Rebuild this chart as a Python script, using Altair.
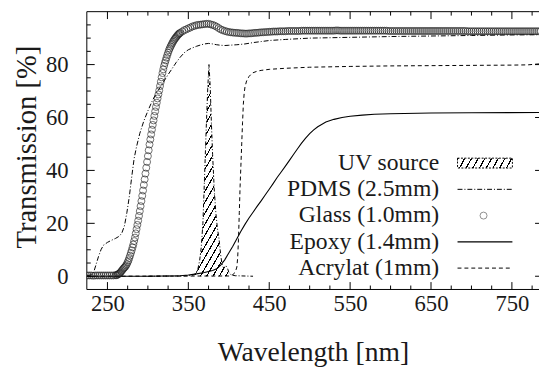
import altair as alt
import pandas as pd

# ---------------- data ----------------
glass_segA = [0.3, 0.3, 0.3, 0.2, 0.3, 0.3, 0.3, 0.3, 0.3, 0.3, 0.3, 0.3, 0.3, 0.3, 0.4]
glass_segB = [0.4, 0.5, 0.7, 0.9, 1.1, 1.4, 1.8, 2.2, 2.6, 3.0,
              3.3, 3.6, 4.1, 4.6, 5.3, 6.0, 6.9, 7.8, 8.8, 9.8,
              10.9, 12.0, 13.3, 14.6, 16.2, 17.8, 19.4, 21.0, 22.8, 24.6,
              26.5, 28.4, 30.4, 32.4, 34.5, 36.6, 38.8, 41.0, 43.2, 45.4,
              47.6, 49.8, 51.7, 53.6, 55.4, 57.2, 58.9, 60.6, 62.3, 64.0,
              65.6, 67.2, 68.7, 70.2, 71.9, 73.5, 75.2, 76.8, 78.2, 79.5,
              80.6, 81.6, 82.6, 83.6, 84.5, 85.4, 86.1, 86.8, 87.4, 88.0,
              88.6, 89.1, 89.6, 90.0, 90.4, 90.8, 91.2, 91.5, 91.8, 92.0]
glass_segC = [92.5, 93.0, 93.3, 93.7, 94.0, 94.4, 94.6, 94.9, 95.0, 95.1,
              95.2, 95.3, 95.4, 95.4, 95.2, 95.0, 94.7, 94.3, 93.8, 93.3,
              93.0, 92.7, 92.5, 92.3, 92.2, 92.1, 92.0, 92.0, 91.9, 91.8,
              91.8, 91.7, 91.7, 91.8, 91.8, 91.9, 92.0, 92.0, 92.1, 92.2,
              92.2, 92.3, 92.3, 92.4]
glass_segD = [92.4, 92.5, 92.5, 92.5, 92.6, 92.6, 92.6, 92.6, 92.7, 92.7,
              92.7, 92.7, 92.7, 92.7, 92.7, 92.8, 92.8, 92.8, 92.8, 92.8,
              92.8, 92.8, 92.8, 92.8, 92.8, 92.8, 92.8, 92.8, 92.8, 92.8,
              92.8, 92.8, 92.9, 92.9, 92.8, 92.8, 92.8, 92.8, 92.8, 92.8,
              92.8, 92.8, 92.8, 92.8, 92.8, 92.8, 92.8, 92.8, 92.8, 92.8,
              92.8, 92.8, 92.8, 92.8, 92.8, 92.8, 92.8, 92.8, 92.7, 92.7,
              92.7, 92.7, 92.7, 92.7, 92.7, 92.7, 92.7, 92.7, 92.7, 92.7,
              92.7, 92.7, 92.7, 92.7, 92.7, 92.7, 92.7, 92.7, 92.7, 92.7,
              92.7, 92.7, 92.7, 92.7, 92.7, 92.7, 92.7, 92.7, 92.7, 92.7,
              92.7, 92.7, 92.7, 92.7, 92.7, 92.7, 92.7, 92.6, 92.6, 92.6,
              92.6, 92.6, 92.6, 92.6, 92.6, 92.6, 92.6, 92.6, 92.6, 92.6,
              92.6, 92.6, 92.6, 92.6, 92.6, 92.6, 92.6, 92.6, 92.6, 92.6,
              92.6, 92.6, 92.6, 92.6, 92.6, 92.6, 92.6, 92.6, 92.6, 92.6,
              92.6, 92.6, 92.6, 92.6]
glass_nm = ([225 + 2.5 * i for i in range(15)] + list(range(261, 341))
            + [342.5 + 2.5 * i for i in range(178)])
glass_t = glass_segA + glass_segB + glass_segC + glass_segD

pdms_nm = [225, 230, 233, 236, 239, 242, 245, 250, 255, 260,
           265, 268, 271, 274, 277, 280, 283, 286, 290, 295,
           300, 305, 310, 315, 320, 325, 330, 335, 340, 345,
           350, 355, 360, 365, 370, 375, 380, 385, 390, 395,
           400, 410, 420, 430, 440, 450, 470, 500, 550, 600,
           650, 700, 750, 785]
pdms_t = [0.3, 0.5, 1.5, 4.5, 7.5, 10, 11.7, 12.8, 13.6, 14.3,
          15.2, 16.5, 19, 24, 30, 37.5, 44.5, 49, 54, 58.7,
          62.5, 66, 69, 71.3, 73.8, 76.2, 78.5, 80.8, 82.8, 84.5,
          85.6, 86.3, 86.9, 87.4, 87.8, 88.0, 87.8, 87.5, 87.3, 87.2,
          87.3, 87.5, 87.8, 88.3, 88.7, 89.1, 89.5, 90.0, 90.3, 90.6,
          90.8, 91.0, 91.2, 91.3]

epoxy_nm = [225, 300, 340, 350, 360, 370, 380, 385, 390, 395,
            400, 405, 410, 415, 420, 425, 430, 435, 440, 445,
            450, 455, 460, 465, 470, 475, 480, 485, 490, 495,
            500, 505, 510, 520, 530, 540, 550, 565, 580, 600,
            650, 700, 785]
epoxy_t = [0, 0, 0.2, 0.5, 0.9, 1.4, 2.2, 2.8, 4.2, 6.2,
           8.8, 11.3, 14.2, 17.0, 19.6, 22.0, 24.2, 26.4, 28.5, 30.7,
           32.9, 35.1, 37.4, 39.5, 41.6, 43.8, 46.0, 48.2, 50.3, 52.2,
           53.9, 55.3, 56.5, 58.3, 59.3, 60.0, 60.5, 60.9, 61.2, 61.4,
           61.7, 61.8, 61.9]

acryl_nm = [225, 400, 402, 405, 408, 410, 411, 412, 413, 414,
            415, 416, 417, 418, 419, 420, 422, 425, 429, 435,
            440, 450, 470, 500, 550, 600, 650, 700, 750, 770, 785]
acryl_t = [0, 0.1, 0.2, 0.6, 1.5, 3.5, 7, 14, 24, 34,
           42, 50, 58, 65, 69, 71.5, 73.8, 75.5, 76.8, 77.5,
           77.8, 78.2, 78.6, 79.0, 79.3, 79.5, 79.6, 79.7, 79.8, 79.9, 80.3]

uv_nm = [300, 340, 355, 358, 360, 362, 364, 366, 368, 370,
         372, 374, 375.5, 377, 378.5, 380, 382, 384, 386, 388,
         390, 392, 394, 396, 398, 400, 403, 408, 430]
uv_t = [0, 0.1, 0.3, 0.8, 1.5, 3, 6, 11, 20, 37,
        55, 71, 80, 72, 58, 46, 33, 24, 18, 14,
        8, 4, 3, 4, 3.5, 1.5, 0.5, 0.2, 0]

x_major = [250, 350, 450, 550, 650, 750]
x_minor = [275, 300, 325, 375, 400, 425, 475, 500, 525, 575, 600, 625, 675, 700, 725, 775]
y_major = [0, 20, 40, 60, 80]
y_minor = [5, 10, 15, 25, 30, 35, 45, 50, 55, 65, 70, 75, 85, 90, 95]
legend_labels = ["UV source", "PDMS (2.5mm)", "Glass (1.0mm)", "Epoxy (1.4mm)", "Acrylat (1mm)"]

# ---------------- layout / style ----------------
W, H = 459, 282
FONT = "Liberation Serif"
INK = "#1a1a1a"
xs = alt.Scale(domain=[224.5, 783.5], nice=False, zero=False)
ys = alt.Scale(domain=[-5, 100], nice=False, zero=False)

glass_df = pd.DataFrame({"nm": glass_nm, "t": glass_t})
pdms_df = pd.DataFrame({"nm": pdms_nm, "t": pdms_t})
epoxy_df = pd.DataFrame({"nm": epoxy_nm, "t": epoxy_t})
acryl_df = pd.DataFrame({"nm": acryl_nm, "t": acryl_t})
uv_df = pd.DataFrame({"nm": uv_nm, "t": uv_t})
uv_peak = uv_df[(uv_df.nm >= 358) & (uv_df.nm <= 403)]


def hatch(n, frac, x2, y2):
    stops = []
    for i in range(n):
        a, b, c = i / n, (i + frac) / n, (i + 1) / n
        stops += [alt.GradientStop(color="black", offset=a),
                  alt.GradientStop(color="black", offset=b),
                  alt.GradientStop(color="white", offset=b),
                  alt.GradientStop(color="white", offset=c)]
    return alt.LinearGradient(gradient="linear", stops=stops, x1=0, y1=0, x2=x2, y2=y2)


x_axis = alt.Axis(values=x_major, domain=False, ticks=False, tickSize=0, grid=False,
                  labelPadding=3, labelFontSize=23, labelFont=FONT, labelColor=INK,
                  labelFlush=False, labelOverlap=False,
                  title="Wavelength [nm]", titleFont=FONT, titleFontSize=28,
                  titleFontWeight="normal", titleColor=INK, titleY=72,
                  titleBaseline="alphabetic")
y_axis = alt.Axis(values=y_major, domain=False, ticks=False, tickSize=0, grid=False,
                  labelPadding=19, labelFontSize=23, labelFont=FONT, labelColor=INK,
                  labelFlush=False, labelOverlap=False, labelBaseline="middle",
                  title="Transmission [%]", titleFont=FONT, titleFontSize=29,
                  titleFontWeight="normal", titleColor=INK, titleX=-61, titleY=137,
                  titleAngle=270, titleBaseline="middle", titleAlign="center")


def X(field="nm"):
    return alt.X(f"{field}:Q", scale=xs, axis=x_axis)


def Y(field="t"):
    return alt.Y(f"{field}:Q", scale=ys, axis=y_axis)


layers = []
layers.append(alt.Chart(uv_peak).mark_area(fill=hatch(25, 0.2, 0.358, 1.193), clip=True)
              .encode(x=X(), y=Y()))
layers.append(alt.Chart(uv_df).mark_line(color="black", strokeWidth=1, strokeDash=[4, 2, 1, 2], clip=True)
              .encode(x=X(), y=Y()))
layers.append(alt.Chart(epoxy_df).mark_line(color="black", strokeWidth=1.1, clip=True)
              .encode(x=X(), y=Y()))
layers.append(alt.Chart(acryl_df).mark_line(color="black", strokeWidth=1, strokeDash=[4, 3], clip=True)
              .encode(x=X(), y=Y()))
layers.append(alt.Chart(pdms_df).mark_line(color="black", strokeWidth=1, strokeDash=[5, 2, 1, 2], clip=True)
              .encode(x=X(), y=Y()))
layers.append(alt.Chart(glass_df).mark_point(shape="circle", filled=False, size=50,
                                             stroke="#1e1e1e", strokeWidth=0.9, clip=True)
              .encode(x=X(), y=Y()))

# frame (left, top, bottom; the right side lies beyond the picture)
one = pd.DataFrame({"k": [0]})
layers.append(alt.Chart(one).mark_rule(color="black", strokeWidth=1)
              .encode(x=alt.value(0), y=alt.value(0), y2=alt.value(H)))
layers.append(alt.Chart(one).mark_rule(color="black", strokeWidth=1)
              .encode(x=alt.value(0), x2=alt.value(W), y=alt.value(0)))
layers.append(alt.Chart(one).mark_rule(color="black", strokeWidth=1)
              .encode(x=alt.value(0), x2=alt.value(W), y=alt.value(H)))

# inward ticks (same field names and axes as the data layers)
for vals, ln in ((x_major, 7.5), (x_minor, 4)):
    d = pd.DataFrame({"nm": vals})
    layers.append(alt.Chart(d).mark_rule(color="black", strokeWidth=1)
                  .encode(x=X(), y=alt.value(H), y2=alt.value(H - ln)))
    layers.append(alt.Chart(d).mark_rule(color="black", strokeWidth=1)
                  .encode(x=X(), y=alt.value(0), y2=alt.value(ln)))
for vals, ln in ((y_major, 8), (y_minor, 4)):
    d = pd.DataFrame({"t": vals})
    layers.append(alt.Chart(d).mark_rule(color="black", strokeWidth=1)
                  .encode(y=Y(), x=alt.value(0), x2=alt.value(ln)))
d = pd.DataFrame({"t": y_major})
layers.append(alt.Chart(d).mark_rule(color="black", strokeWidth=1)
              .encode(y=Y(), x=alt.value(W - 4), x2=alt.value(W)))

# key
row0, drow = 153.7, 26.65
tx, s0, s1, sc = 357.7, 376.3, 432, 402.7
for i, lab in enumerate(legend_labels):
    ry = row0 + i * drow
    layers.append(alt.Chart(pd.DataFrame({"label": [lab]}))
                  .mark_text(font=FONT, fontSize=24, color=INK, align="right", baseline="middle")
                  .encode(x=alt.value(tx), y=alt.value(ry), text="label:N"))
    if i == 0:
        lay = (alt.Chart(one).mark_rect(fill=hatch(9, 0.2, 1.088, 0.108), stroke="black",
                                        strokeWidth=1, strokeDash=[2, 1.5])
               .encode(x=alt.value(s0), x2=alt.value(s1), y=alt.value(ry - 5), y2=alt.value(ry + 5)))
    elif i == 1:
        lay = (alt.Chart(one).mark_rule(color="black", strokeWidth=1, strokeDash=[5, 2, 1, 2])
               .encode(x=alt.value(s0), x2=alt.value(s1), y=alt.value(ry)))
    elif i == 2:
        lay = (alt.Chart(one).mark_point(shape="circle", filled=False, size=50,
                                         stroke="#3a3a3a", strokeWidth=0.8)
               .encode(x=alt.value(sc), y=alt.value(ry)))
    elif i == 3:
        lay = (alt.Chart(one).mark_rule(color="black", strokeWidth=1.1)
               .encode(x=alt.value(s0), x2=alt.value(s1), y=alt.value(ry)))
    else:
        lay = (alt.Chart(one).mark_rule(color="black", strokeWidth=1, strokeDash=[4, 3])
               .encode(x=alt.value(s0), x2=alt.value(s1), y=alt.value(ry)))
    layers.append(lay)

chart = (alt.layer(*layers)
         .properties(width=W, height=H, background="white",
                     autosize=alt.AutoSizeParams(type="none"),
                     padding={"left": 80, "top": 1, "right": 0, "bottom": 78})
         .configure_view(stroke=None))

chart.save("out.html", embed_options={"renderer": "svg", "actions": False})
